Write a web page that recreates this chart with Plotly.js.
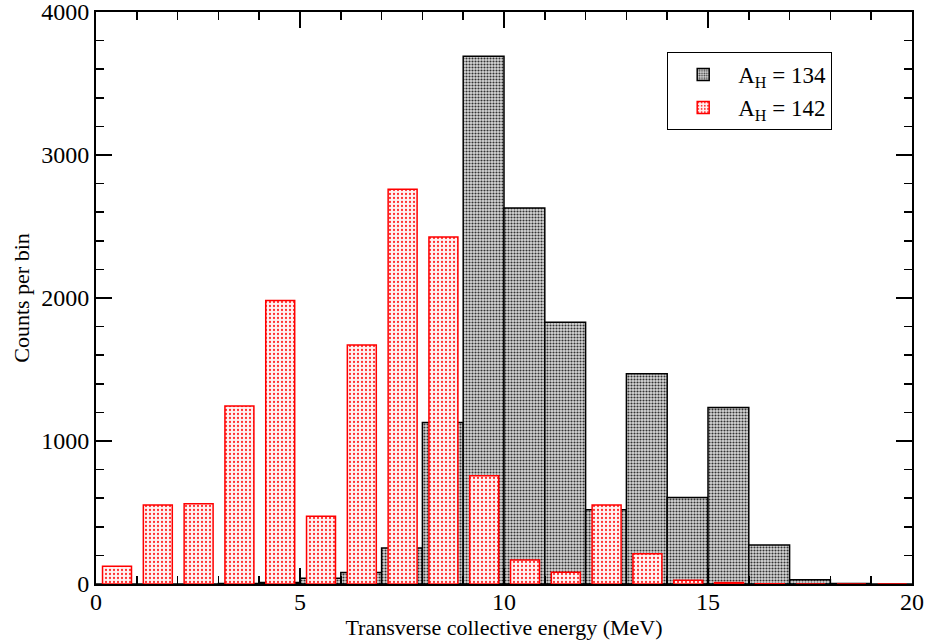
<!DOCTYPE html>
<html>
<head>
<meta charset="utf-8">
<script src="https://cdn.plot.ly/plotly-3.0.1.min.js"></script>
<style>html,body{margin:0;padding:0;background:#fff;}#chart{width:929px;height:644px;}</style>
</head>
<body>
<div id="chart"></div>
<script>
// Bin left edges (MeV), 1 MeV bins
const binEdges = [0,1,2,3,4,5,6,7,8,9,10,11,12,13,14,15,16,17,18,19];
// A_H = 134 counts per bin
const countsA134 = [0,0,0,3,10,40,80,252,1130,3690,2630,1830,520,1470,605,1235,273,30,4,0];
// A_H = 142 counts per bin
const countsA142 = [125,553,562,1245,1982,473,1671,2760,2427,757,168,82,552,212,26,10,2,0,0,0];
const seriesNames = ["A<sub>H</sub> = 134", "A<sub>H</sub> = 142"];
const xTitle = "Transverse collective energy (MeV)";
const yTitle = "Counts per bin";

const serif = "Liberation Serif, Times New Roman, serif";

const traces = [
  {
    type: "bar", name: seriesNames[0], x: binEdges, y: countsA134,
    width: 1, offset: 0,
    marker: {
      color: "white",
      line: {color: "black", width: 1.5},
      pattern: {shape: ".", fgcolor: "#333", bgcolor: "#d8d8d8", size: 3, solidity: 0.4, fillmode: "replace"}
    },
    hoverinfo: "x+y"
  },
  {
    type: "bar", name: seriesNames[1], x: binEdges, y: countsA142,
    width: 0.71, offset: 0.16,
    marker: {
      color: "white",
      line: {color: "#ff0000", width: 1.5},
      pattern: {shape: ".", fgcolor: "#ff3030", bgcolor: "#fff4f4", size: 4, solidity: 0.25, fillmode: "replace"}
    },
    hoverinfo: "x+y"
  }
];

const axisCommon = {
  showgrid: false, zeroline: false, showline: true, linecolor: "black", linewidth: 2,
  mirror: "allticks", ticks: "inside", ticklen: 16, tickwidth: 1.5, tickcolor: "black",
  ticklabeloverflow: "allow",
  tickfont: {family: serif, size: 24, color: "black"}
};

const layout = {
  width: 929, height: 644,
  margin: {l: 96, r: 17, t: 12, b: 60},
  paper_bgcolor: "white", plot_bgcolor: "white",
  barmode: "overlay",
  showlegend: true,
  legend: {
    x: 0.70, y: 0.93, xanchor: "left", yanchor: "top",
    bgcolor: "white", bordercolor: "black", borderwidth: 1,
    font: {family: serif, size: 23, color: "black"},
    itemwidth: 60,
    traceorder: "normal"
  },
  xaxis: Object.assign({}, axisCommon, {
    range: [0, 20], dtick: 5, tick0: 0,
    ticklabelstandoff: -5,
    minor: {dtick: 1, ticks: "inside", ticklen: 8, tickwidth: 1.5, tickcolor: "black", showgrid: false},
    title: {text: xTitle, font: {family: serif, size: 22, color: "black"}, standoff: 0}
  }),
  yaxis: Object.assign({}, axisCommon, {
    range: [0, 4000], dtick: 1000, tick0: 0,
    minor: {dtick: 200, ticks: "inside", ticklen: 8, tickwidth: 1.5, tickcolor: "black", showgrid: false},
    title: {text: yTitle, font: {family: serif, size: 22, color: "black"}, standoff: 6}
  })
};

Plotly.newPlot("chart", traces, layout, {displayModeBar: false, staticPlot: true});
</script>
</body>
</html>
